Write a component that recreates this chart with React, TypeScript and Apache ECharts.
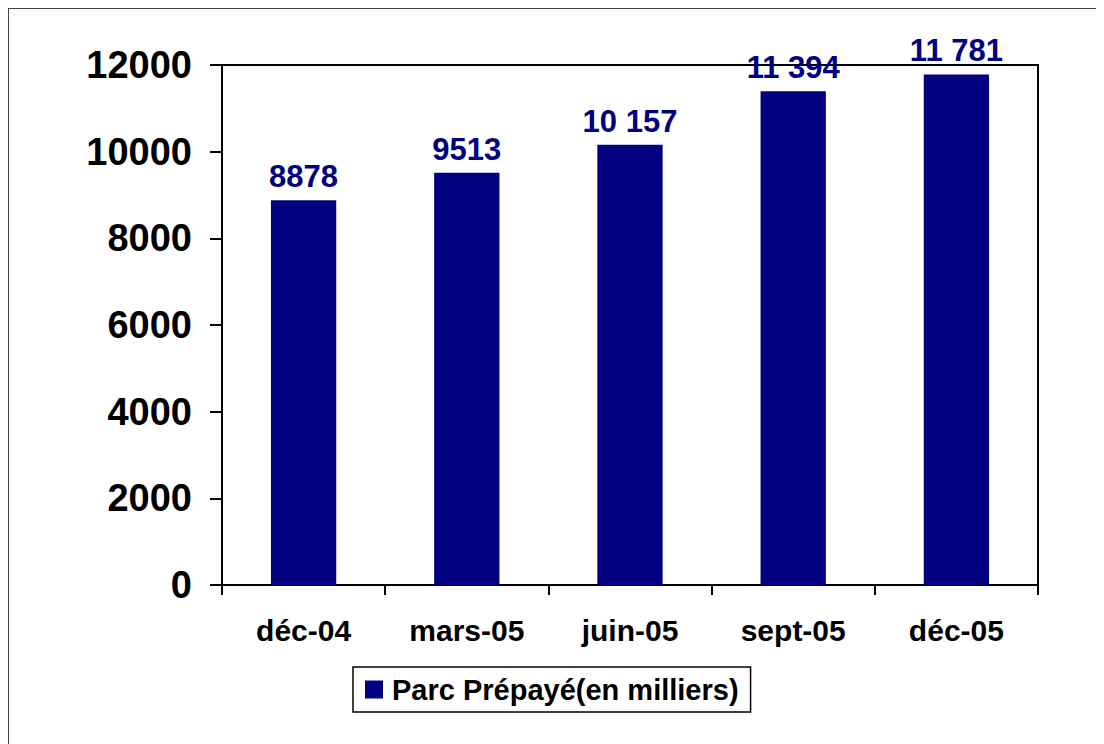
import React, { useEffect, useRef } from "react";
import * as echarts from "echarts";

const categories = ["déc-04", "mars-05", "juin-05", "sept-05", "déc-05"];
const values = [8878, 9513, 10157, 11394, 11781];
const seriesName = "Parc Prépayé(en milliers)";
const yMin = 0;
const yMax = 12000;
const yInterval = 2000;

const NAVY = "#000080";
const FONT = "Arial, 'Liberation Sans', sans-serif";

function fmt(v: number): string {
  if (v >= 10000) {
    const s = String(v);
    return s.slice(0, s.length - 3) + " " + s.slice(s.length - 3);
  }
  return String(v);
}

export default function App() {
  const ref = useRef<HTMLDivElement>(null);
  useEffect(() => {
    if (!ref.current) return;
    const chart = echarts.init(ref.current, undefined, { renderer: "svg" });
    chart.setOption({
      animation: false,
      backgroundColor: "#ffffff",
      graphic: [
        {
          type: "rect",
          shape: { x: 0, y: 0, width: 3000, height: 3000 },
          style: { fill: "none", stroke: "#444", lineWidth: 2 },
          z: -10,
          silent: true,
        },
      ],
      grid: {
        left: 214,
        top: 57,
        right: 66,
        bottom: 159,
        show: true,
        borderColor: "#000",
        borderWidth: 2,
        backgroundColor: "transparent",
      },
      legend: {
        left: 345,
        top: 659,
        padding: [8, 12, 8, 12],
        itemWidth: 18,
        itemHeight: 18,
        borderColor: "#000",
        borderWidth: 1.5,
        borderRadius: 0,
        icon: "rect",
        textStyle: {
          fontFamily: FONT,
          fontWeight: "bold",
          fontSize: 29,
          color: "#000",
          padding: [0, 0, 0, 4],
        },
        data: [seriesName],
      },
      xAxis: {
        type: "category",
        data: categories,
        axisLine: { lineStyle: { color: "#000", width: 2 } },
        axisTick: { show: true, length: 10, lineStyle: { color: "#000", width: 2 } },
        axisLabel: {
          fontFamily: FONT,
          fontWeight: "bold",
          fontSize: 30,
          color: "#000",
          margin: 30,
        },
        splitLine: { show: false },
      },
      yAxis: {
        type: "value",
        min: yMin,
        max: yMax,
        interval: yInterval,
        axisLine: { show: true, lineStyle: { color: "#000", width: 2 } },
        axisTick: { show: true, length: 12, lineStyle: { color: "#000", width: 2 } },
        axisLabel: {
          fontFamily: FONT,
          fontWeight: "bold",
          fontSize: 38,
          color: "#000",
          margin: 30,
          formatter: (v: number) => String(v),
        },
        splitLine: { show: false },
      },
      series: [
        {
          name: seriesName,
          type: "bar",
          data: values,
          barWidth: "40%",
          itemStyle: { color: NAVY },
          label: {
            show: true,
            position: "top",
            distance: 8,
            formatter: (p: any) => fmt(p.value),
            fontFamily: FONT,
            fontWeight: "bold",
            fontSize: 31,
            color: NAVY,
          },
        },
      ],
    });
    return () => chart.dispose();
  }, []);
  return <div ref={ref} style={{ width: 1096, height: 736 }} />;
}
